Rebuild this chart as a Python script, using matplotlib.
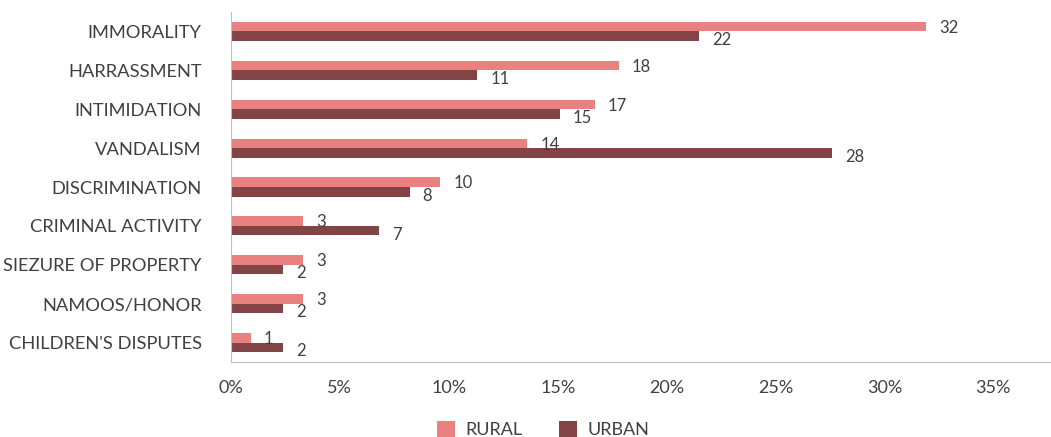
import numpy as np
import matplotlib.pyplot as plt
from matplotlib.ticker import FuncFormatter

plt.rcParams['font.family'] = ['Lato', 'DejaVu Sans']

# =========================
# Data
# =========================

categories = [
    "IMMORALITY", "HARRASSMENT", "INTIMIDATION", "VANDALISM",
    "DISCRIMINATION", "CRIMINAL ACTIVITY", "SIEZURE OF PROPERTY",
    "NAMOOS/HONOR", "CHILDREN'S DISPUTES",
]
rural_pct = [31.9, 17.8, 16.7, 13.6, 9.6, 3.3, 3.3, 3.3, 0.9]
urban_pct = [21.5, 11.3, 15.1, 27.6, 8.2, 6.8, 2.4, 2.4, 2.4]
rural_labels = [32, 18, 17, 14, 10, 3, 3, 3, 1]
urban_labels = [22, 11, 15, 28, 8, 7, 2, 2, 2]

rural_color = "#E8817F"
urban_color = "#834445"
text_color = "#404040"

# =========================
# Plot
# =========================

fig = plt.figure(figsize=(10.51, 4.37), dpi=100)
ax = fig.add_axes([0.2198, 0.1716, 0.7792, 0.8009])

y = np.arange(len(categories))
h = 0.245

ax.barh(y - h / 2, rural_pct, height=h, color=rural_color, label="RURAL")
ax.barh(y + h / 2, urban_pct, height=h, color=urban_color, label="URBAN")

for yi, v, lab in zip(y, rural_pct, rural_labels):
    ax.text(v + 0.6, yi - h / 2 + 0.03, str(lab), va="center", ha="left",
            fontsize=12, color=text_color)
for yi, v, lab in zip(y, urban_pct, urban_labels):
    ax.text(v + 0.6, yi + h / 2 + 0.1, str(lab), va="center", ha="left",
            fontsize=12, color=text_color)

ax.set_ylim(len(categories) - 0.5, -0.5)
ax.set_xlim(0, 37.6)
ax.set_yticks(y)
ax.set_yticklabels(categories)
ax.set_xticks(np.arange(0, 36, 5))
ax.xaxis.set_major_formatter(FuncFormatter(lambda v, p: f"{v:.0f}%"))

ax.tick_params(axis="y", length=0, colors=text_color, labelsize=13.2, pad=21)
ax.tick_params(axis="x", length=0, colors=text_color, labelsize=13, pad=13)

for s in ["top", "right"]:
    ax.spines[s].set_visible(False)
ax.spines["left"].set_color("#BFBFBF")
ax.spines["bottom"].set_color("#BFBFBF")

handles, labels = ax.get_legend_handles_labels()
fig.legend(handles, labels, loc="center", bbox_to_anchor=(0.517, 0.018), ncol=2,
           frameon=False, fontsize=13, handlelength=1.0, handleheight=1.0,
           columnspacing=2.0, handletextpad=0.6, labelcolor=text_color)

plt.savefig("out.png", dpi=100)
